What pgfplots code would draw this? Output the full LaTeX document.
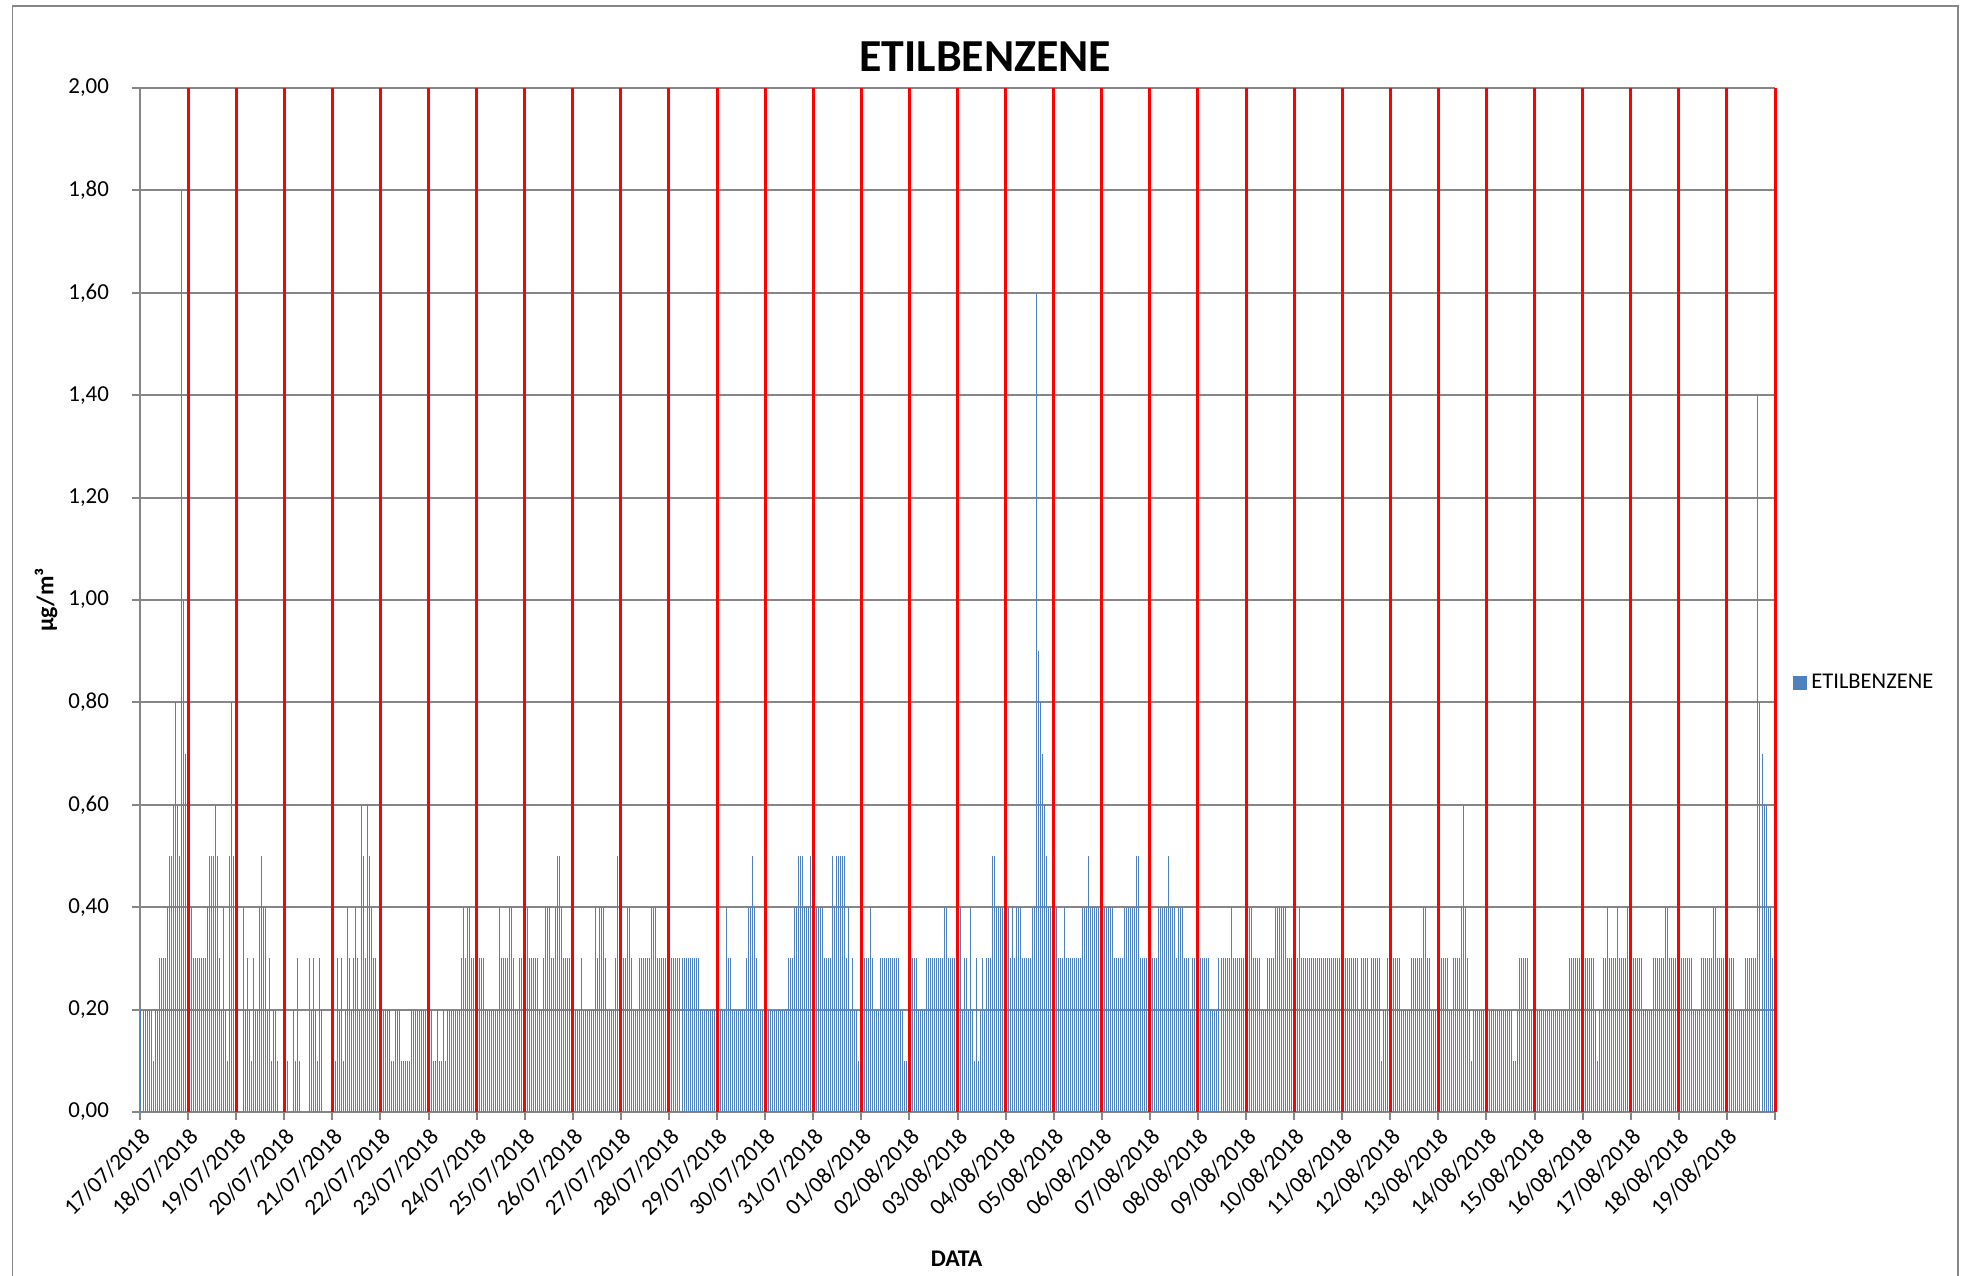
\documentclass[border=0pt]{standalone}
\usepackage{pgfplots}
\pgfplotsset{compat=1.18}
\usepackage{pgfplotstable}
\usepackage{fontspec}
\setmainfont{Carlito}
\definecolor{barblue}{RGB}{79,129,189}
\definecolor{gridgray}{RGB}{134,134,134}

\pgfplotstableread[row sep=\\]{
y\\
0.2\\0.2\\0.2\\0.2\\0.2\\0.2\\0.1\\0.2\\0.2\\0.3\\0.3\\0.3\\0.3\\0.4\\0.5\\0.5\\0.6\\0.8\\0.6\\0.5\\1.8\\1.0\\0.7\\0.6\\
0.5\\0.4\\0.3\\0.3\\0.3\\0.3\\0.3\\0.3\\0.3\\0.4\\0.5\\0.5\\0.5\\0.6\\0.5\\0.3\\0.2\\0.4\\0.2\\0.1\\0.5\\0.8\\0.5\\0.4\\
0\\0\\0\\0.4\\0.2\\0.3\\0.2\\0.1\\0.3\\0.2\\0.2\\0.4\\0.5\\0.4\\0.4\\0.2\\0.3\\0.1\\0.2\\0.2\\0.1\\0\\0\\0\\
0.2\\0.1\\0\\0\\0.2\\0.1\\0.3\\0.1\\0\\0\\0\\0\\0.3\\0.2\\0.3\\0.2\\0.1\\0.3\\0.2\\0\\0\\0\\0\\0\\
0.1\\0.1\\0.3\\0.2\\0.3\\0.1\\0.2\\0.4\\0.3\\0.2\\0.3\\0.4\\0.3\\0.2\\0.6\\0.5\\0.3\\0.6\\0.5\\0.4\\0.3\\0.3\\0.2\\0.2\\
0.2\\0.2\\0.2\\0.2\\0.2\\0.1\\0.1\\0.2\\0.2\\0.2\\0.1\\0.1\\0.1\\0.1\\0.1\\0.2\\0.2\\0.2\\0.2\\0.2\\0.2\\0.2\\0.2\\0.2\\
0.1\\0.2\\0.1\\0.1\\0.2\\0.1\\0.1\\0.2\\0.1\\0.2\\0.2\\0.2\\0.2\\0.2\\0.2\\0.2\\0.3\\0.4\\0.3\\0.4\\0.4\\0.3\\0.3\\0.3\\
0.3\\0.3\\0.3\\0.3\\0.2\\0.2\\0.2\\0.2\\0.2\\0.2\\0.2\\0.4\\0.3\\0.3\\0.3\\0.3\\0.4\\0.4\\0.3\\0.2\\0.2\\0.3\\0.3\\0.4\\
0.4\\0.4\\0.3\\0.3\\0.3\\0.3\\0.3\\0.2\\0.2\\0.3\\0.4\\0.4\\0.4\\0.3\\0.3\\0.4\\0.5\\0.5\\0.4\\0.3\\0.3\\0.3\\0.3\\0.2\\
0.3\\0.2\\0.2\\0.2\\0.3\\0.2\\0.2\\0.2\\0.2\\0.2\\0.2\\0.4\\0.3\\0.4\\0.4\\0.4\\0.3\\0.2\\0.2\\0.2\\0.2\\0.3\\0.5\\0.4\\
0.3\\0.3\\0.3\\0.4\\0.4\\0.3\\0.2\\0.2\\0.2\\0.3\\0.3\\0.3\\0.3\\0.3\\0.3\\0.4\\0.4\\0.4\\0.3\\0.3\\0.3\\0.3\\0.3\\0.3\\
0.3\\0.3\\0.3\\0.3\\0.3\\0.3\\0.3\\0.3\\0.3\\0.3\\0.3\\0.3\\0.3\\0.3\\0.3\\0.2\\0.2\\0.2\\0.2\\0.2\\0.2\\0.2\\0.2\\0.2\\
0.2\\0.2\\0.2\\0.2\\0.4\\0.3\\0.3\\0.2\\0.2\\0.2\\0.2\\0.2\\0.2\\0.2\\0.3\\0.4\\0.4\\0.5\\0.4\\0.3\\0.2\\0.2\\0.2\\0.2\\
0.3\\0.2\\0.2\\0.2\\0.2\\0.2\\0.2\\0.2\\0.2\\0.2\\0.2\\0.3\\0.3\\0.3\\0.4\\0.4\\0.5\\0.5\\0.5\\0.4\\0.4\\0.4\\0.5\\0.4\\
0.4\\0.4\\0.4\\0.4\\0.4\\0.3\\0.3\\0.3\\0.3\\0.5\\0.4\\0.5\\0.5\\0.5\\0.5\\0.5\\0.3\\0.4\\0.2\\0.3\\0.2\\0.2\\0.1\\0.1\\
0.3\\0.3\\0.3\\0.3\\0.4\\0.3\\0.2\\0.2\\0.2\\0.3\\0.3\\0.3\\0.3\\0.3\\0.3\\0.3\\0.3\\0.3\\0.3\\0.2\\0.2\\0.1\\0.1\\0\\
0.3\\0.3\\0.3\\0.3\\0.2\\0.2\\0.2\\0.2\\0.3\\0.3\\0.3\\0.3\\0.3\\0.3\\0.3\\0.3\\0.3\\0.4\\0.4\\0.3\\0.3\\0.3\\0.3\\0.3\\
0.3\\0.4\\0.2\\0.3\\0.3\\0.2\\0.4\\0.2\\0.1\\0.3\\0.1\\0.2\\0.3\\0.2\\0.3\\0.3\\0.3\\0.5\\0.5\\0.4\\0.4\\0.4\\0.4\\0.4\\
0.4\\0.4\\0.3\\0.4\\0.3\\0.4\\0.4\\0.4\\0.3\\0.3\\0.3\\0.3\\0.3\\0.4\\0.4\\1.6\\0.9\\0.8\\0.7\\0.6\\0.5\\0.4\\0.4\\0.4\\
0.4\\0.4\\0.3\\0.3\\0.3\\0.4\\0.3\\0.3\\0.3\\0.3\\0.3\\0.3\\0.3\\0.3\\0.4\\0.4\\0.4\\0.5\\0.4\\0.4\\0.4\\0.4\\0.4\\0.4\\
0.4\\0.4\\0.4\\0.4\\0.4\\0.4\\0.3\\0.3\\0.3\\0.3\\0.3\\0.4\\0.4\\0.4\\0.4\\0.4\\0.4\\0.5\\0.5\\0.3\\0.3\\0.3\\0.3\\0.3\\
0.3\\0.3\\0.3\\0.3\\0.4\\0.4\\0.4\\0.4\\0.4\\0.5\\0.4\\0.4\\0.4\\0.3\\0.4\\0.4\\0.4\\0.3\\0.3\\0.3\\0.2\\0.3\\0.3\\0.3\\
0.4\\0.3\\0.3\\0.3\\0.3\\0.3\\0.2\\0.2\\0.2\\0.2\\0.3\\0.3\\0.3\\0.3\\0.3\\0.3\\0.4\\0.3\\0.3\\0.3\\0.3\\0.3\\0.3\\0.3\\
0.4\\0.4\\0.4\\0.3\\0.3\\0.3\\0.3\\0.2\\0.2\\0.2\\0.3\\0.3\\0.3\\0.3\\0.4\\0.4\\0.4\\0.4\\0.4\\0.4\\0.3\\0.3\\0.3\\0.3\\
0.3\\0.3\\0.4\\0.3\\0.3\\0.3\\0.3\\0.3\\0.3\\0.3\\0.3\\0.3\\0.3\\0.3\\0.3\\0.3\\0.3\\0.3\\0.3\\0.3\\0.3\\0.3\\0.3\\0.3\\
0.3\\0.3\\0.3\\0.3\\0.3\\0.3\\0.3\\0.3\\0.2\\0.3\\0.3\\0.3\\0.3\\0.2\\0.3\\0.3\\0.3\\0.3\\0.3\\0.1\\0.2\\0.2\\0.3\\0.3\\
0.3\\0.3\\0.3\\0.3\\0.3\\0.2\\0.2\\0.2\\0.2\\0.2\\0.3\\0.3\\0.3\\0.3\\0.3\\0.3\\0.4\\0.4\\0.3\\0.3\\0.2\\0.2\\0.2\\0.3\\
0.3\\0.3\\0.3\\0.3\\0.3\\0.2\\0.2\\0.3\\0.3\\0.3\\0.3\\0.4\\0.6\\0.4\\0.3\\0.2\\0.1\\0.2\\0.2\\0.2\\0.2\\0.2\\0.2\\0.3\\
0.2\\0.2\\0.2\\0.2\\0.2\\0.2\\0.2\\0.2\\0.2\\0.2\\0.2\\0.2\\0.2\\0.1\\0.1\\0.2\\0.3\\0.3\\0.3\\0.3\\0.3\\0.2\\0.2\\0.2\\
0.2\\0.2\\0.2\\0.2\\0.2\\0.2\\0.2\\0.2\\0.2\\0.2\\0.2\\0.2\\0.2\\0.2\\0.2\\0.2\\0.2\\0.3\\0.3\\0.3\\0.3\\0.3\\0.3\\0.3\\
0.3\\0.3\\0.3\\0.3\\0.3\\0.3\\0.2\\0.1\\0.2\\0.2\\0.3\\0.3\\0.4\\0.3\\0.3\\0.3\\0.3\\0.4\\0.3\\0.3\\0.3\\0.3\\0.4\\0.3\\
0.3\\0.3\\0.3\\0.3\\0.3\\0.3\\0.2\\0.2\\0.2\\0.2\\0.2\\0.3\\0.3\\0.3\\0.3\\0.3\\0.3\\0.4\\0.4\\0.3\\0.3\\0.3\\0.3\\0.3\\
0.3\\0.3\\0.3\\0.3\\0.3\\0.3\\0.3\\0.2\\0.2\\0.2\\0.2\\0.3\\0.3\\0.3\\0.3\\0.3\\0.3\\0.4\\0.4\\0.3\\0.3\\0.3\\0.3\\0.3\\
0.3\\0.3\\0.3\\0.3\\0.2\\0.2\\0.2\\0.2\\0.2\\0.3\\0.3\\0.3\\0.3\\0.3\\0.3\\1.4\\0.8\\0.7\\0.6\\0.6\\0.4\\0.4\\0.3\\0.2\\
}\etil

\begin{document}
\begin{tikzpicture}
\useasboundingbox (-70bp,-82bp) rectangle (914bp,556bp);
\draw[gridgray, line width=0.9bp] (-63.75bp,-100bp) -- (-63.75bp,553bp) -- (909bp,553bp) -- (909bp,-100bp);
\begin{axis}[
  scale only axis, width=817.5bp, height=512bp,
  xmin=0, xmax=816, ymin=0, ymax=2,
  clip=false,
  axis x line=bottom, axis y line=left,
  axis line style={-, gridgray, line width=1bp},
  tick style={gridgray, line width=1bp},
  major tick length=4bp,
  tick align=outside,
  xtick={0,24,...,816},
  xticklabels={17/07/2018,18/07/2018,19/07/2018,20/07/2018,21/07/2018,22/07/2018,23/07/2018,24/07/2018,25/07/2018,26/07/2018,27/07/2018,28/07/2018,29/07/2018,30/07/2018,31/07/2018,01/08/2018,02/08/2018,03/08/2018,04/08/2018,05/08/2018,06/08/2018,07/08/2018,08/08/2018,09/08/2018,10/08/2018,11/08/2018,12/08/2018,13/08/2018,14/08/2018,15/08/2018,16/08/2018,17/08/2018,18/08/2018,19/08/2018,{}},
  ytick={0,0.2,0.4,0.6,0.8,1,1.2,1.4,1.6,1.8,2},
  yticklabels={{0,00},{0,20},{0,40},{0,60},{0,80},{1,00},{1,20},{1,40},{1,60},{1,80},{2,00}},
  xticklabel style={font=\fontsize{11.5}{13}\selectfont, yshift=-2bp, rotate=45, anchor=north east, inner sep=1bp},
  yticklabel style={font=\fontsize{11.5}{13}\selectfont, anchor=east, xshift=-8bp},
  ymajorgrids, grid style={gridgray, line width=1bp},
  title={ETILBENZENE}, xlabel={DATA}, ylabel={µg/m³},
  every axis title/.style={at={(rel axis cs:0.517,1)}, anchor=base, yshift=8bp, font=\bfseries\fontsize{23}{27}\selectfont},
  every axis x label/.style={at={(rel axis cs:0.4994,-0.1436)}, anchor=center, font=\bfseries\fontsize{12}{14}\selectfont},
  every axis y label/.style={at={(rel axis cs:-0.0575,0.5)}, anchor=center, rotate=90, font=\bfseries\fontsize{12}{14}\selectfont},
  legend style={at={(1.011,0.419)}, anchor=west, draw=none, fill=none, inner sep=0pt, font=\fontsize{11.3}{13}\selectfont},
]
\addplot[barblue, line width=0.5bp, ycomb, mark=none,
  legend image code/.code={\fill[barblue] (0bp,-3.25bp) rectangle (6.5bp,3.25bp);}]
  table[x expr=\coordindex+0.5, y=y]{\etil};
\addlegendentry{ETILBENZENE}
\addplot[red, line width=1.5bp, ycomb, mark=none, forget plot] coordinates {
(24,2) (48,2) (72,2) (96,2) (120,2) (144,2) (168,2) (192,2) (216,2) (240,2)
(264,2) (288,2) (312,2) (336,2) (360,2) (384,2) (408,2) (432,2) (456,2) (480,2)
(504,2) (528,2) (552,2) (576,2) (600,2) (624,2) (648,2) (672,2) (696,2) (720,2)
(744,2) (768,2) (792,2) (816,2)};
\end{axis}
\end{tikzpicture}
\end{document}
